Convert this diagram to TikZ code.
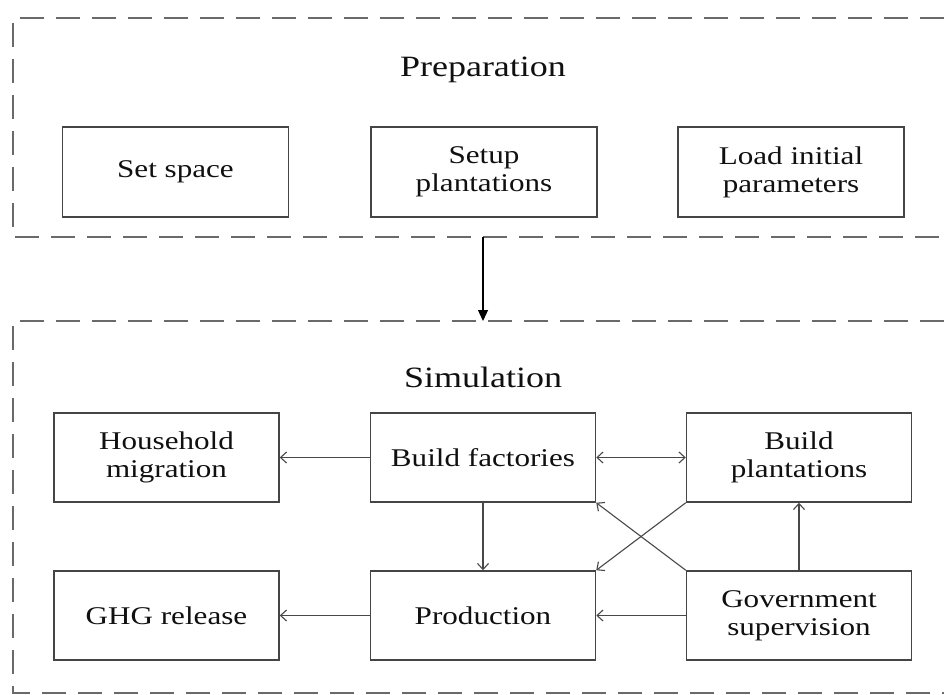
\documentclass[tikz,border=0pt]{standalone}
\usepackage{fontspec}
\setmainfont[FakeStretch=1.22]{Liberation Serif}
\usetikzlibrary{arrows.meta}
\definecolor{boxline}{HTML}{454545}
\definecolor{dashline}{HTML}{6A6A6A}
\definecolor{conn}{HTML}{484848}
\definecolor{txt}{HTML}{101010}
\tikzset{
  stepbox/.style={draw=boxline, line width=1.5pt, fill=white, minimum width=226pt, minimum height=90pt,
    inner sep=0pt, align=center, text=txt, font=\fontsize{25.5}{28}\selectfont},
  simbox/.style={stepbox, minimum width=225pt, minimum height=89pt},
  titletext/.style={anchor=base, text=txt, font=\fontsize{29.5}{32}\selectfont, inner sep=0pt},
  groupframe/.style={draw=dashline, line width=1.8pt, dash pattern=on 24pt off 12pt},
  flow/.style={draw=conn, line width=1.1pt, -{Straight Barb[length=6pt,width=11pt]}},
  bothflow/.style={draw=conn, line width=1.1pt, {Straight Barb[length=6pt,width=11pt]}-{Straight Barb[length=6pt,width=11pt]}},
  mainflow/.style={draw=black, line width=1.2pt, -{Triangle[length=11pt,width=10pt]}}
}
\begin{document}
\begin{tikzpicture}[x=1pt,y=-1pt]
\useasboundingbox (0,0) rectangle (944,695);
\fill[white] (0,0) rectangle (944,695);
\clip (0,0) rectangle (944,695);

% group frames (right side lies outside the picture)
\draw[groupframe] (980,18) -- (13,18) -- (13,237) -- (980,237);
\draw[groupframe] (980,321) -- (13,321) -- (13,693) -- (980,693);

% titles
\node[titletext] (preptitle) at (483,77) {Preparation};
\node[titletext] (simtitle) at (483,387) {Simulation};

% preparation boxes
\node[stepbox] (setspace) at (175.5,172) {Set space};
\node[stepbox] (setup) at (484,172) {Setup\\plantations};
\node[stepbox] (load) at (791,172) {Load initial\\parameters};

% simulation boxes
\node[simbox] (hm) at (166.5,457.5) {Household\\migration};
\node[simbox] (bf) at (483,457.5) {Build factories};
\node[simbox] (bp) at (799,457.5) {Build\\plantations};
\node[simbox] (ghg) at (166.5,615.5) {GHG release};
\node[simbox] (prod) at (483,615.5) {Production};
\node[simbox] (gov) at (799,615.5) {Government\\supervision};

% main arrow
\coordinate (prepbot) at (483,237);
\coordinate (simtop) at (483,321);
\draw[mainflow] (prepbot) -- (simtop);

% connectors
\draw[flow] (bf.west) -- (hm.east);
\draw[bothflow] (bf.east) -- (bp.west);
\draw[flow] (bf.south) -- (prod.north);
\draw[flow] (gov.north) -- (bp.south);
\draw[flow] (gov.west) -- (prod.east);
\draw[flow] (prod.west) -- (ghg.east);
\draw[flow] (gov.north west) -- (bf.south east);
\draw[flow] (bp.south west) -- (prod.north east);
\end{tikzpicture}
\end{document}
